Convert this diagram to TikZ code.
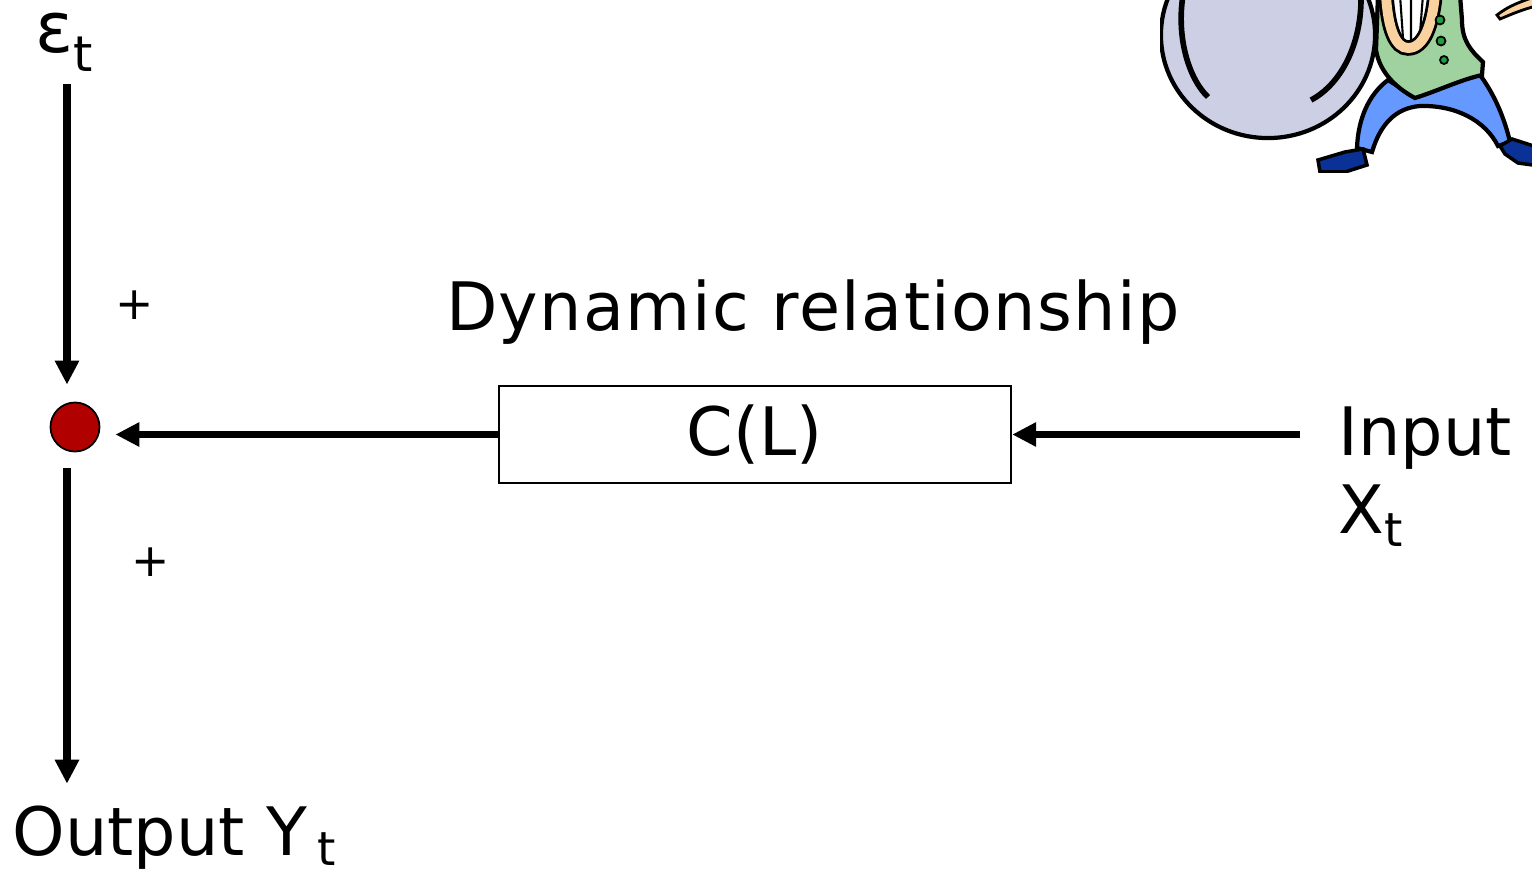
\documentclass[tikz,border=0pt]{standalone}
\usepackage{fontspec}
\setmainfont{DejaVu Sans}
\usepackage{graphicx}
\usetikzlibrary{positioning, arrows.meta}

\definecolor{sumred}{RGB}{176,0,0}
\definecolor{sack}{RGB}{205,208,229}
\definecolor{vest}{RGB}{160,210,160}
\definecolor{pants}{RGB}{102,153,255}
\definecolor{shoe}{RGB}{10,50,150}
\definecolor{skin}{RGB}{250,210,160}
\definecolor{button}{RGB}{30,160,60}

\tikzstyle{block} = [rectangle, minimum width=5.12cm, minimum height=0.97cm, text centered, draw=black, line width=0.6pt, font=\fontsize{19}{22}\selectfont]
\tikzstyle{sumpoint} = [circle, minimum size=0.49cm, inner sep=0pt, fill=sumred, draw=black, line width=0.5pt]
\tikzstyle{sig} = [inner sep=0pt, font=\fontsize{19}{22}\selectfont]
\tikzstyle{sign} = [inner sep=0pt, font=\fontsize{13}{15}\selectfont]
\tikzstyle{arrow} = [line width=2pt, ->, >={Triangle[length=0.24cm, width=0.23cm]}]

% lowered small t
\newcommand{\subt}[1][0.2em]{\raisebox{-#1}{\scalebox{0.7}{t}}}

\begin{document}
\begin{tikzpicture}[x=0.01cm, y=-0.01cm]
\useasboundingbox (0,0) rectangle (1532,872);

\node (eps) [sig, anchor=base west, font=\fontsize{20}{22}\selectfont] at (35,52) {ε\subt[0.28em]};
\node (sum) [sumpoint] at (75,427) {};
\node (clbox) [block] at (755,434.5) {C(L)};
\node (dyn) [sig, anchor=base] at (813,330) {\addfontfeature{LetterSpace=2.1}Dynamic relationship};
\node (input) [sig, anchor=base west] at (1338,455) {Input};
\node (xt) [sig, anchor=base west] at (1338,533) {X\subt};
\node (out) [sig, anchor=base west] at (12,855) {Output Y\,\subt[0.15em]};

\node (plusin) [sign] at (135,305) {+};
\node (plusout) [sign] at (151,562) {+};

\draw [arrow] ([xshift=-0.08cm, yshift=-0.12cm]sum.north |- eps.south) -- ([xshift=-0.08cm, yshift=0.17cm]sum.north);
\draw [arrow] ([xshift=-0.08cm, yshift=-0.16cm]sum.south) -- ([xshift=-0.08cm, yshift=0.21cm]sum.south |- out.north);
\draw [arrow] (clbox.west) -- ([xshift=0.15cm]clbox.west -| sum.east);
\draw [arrow] ([xshift=-0.38cm]input.west |- clbox.east) -- (clbox.east);

% little man pushing the sack
\begin{scope}
\clip (1160,0) rectangle (1532,172);
\filldraw [fill=sack, line width=1.2pt] (1268,35) ellipse [x radius=1.07cm, y radius=1.03cm];
\draw [line width=1.6pt] (1183,-5) .. controls (1176,40) and (1190,80) .. (1208,97);
\draw [line width=1.6pt] (1311,100) .. controls (1340,85) and (1362,45) .. (1361,-5);

\filldraw [fill=pants, line width=1.2pt] (1357,148) .. controls (1358,120) and (1368,95) .. (1388,80)
  -- (1412,95) .. controls (1430,88) and (1460,78) .. (1480,75)
  .. controls (1495,95) and (1505,120) .. (1510,142) -- (1498,146)
  .. controls (1485,120) and (1455,105) .. (1420,106)
  .. controls (1395,108) and (1380,125) .. (1372,152) -- cycle;
\filldraw [fill=vest, line width=1.2pt] (1378,-5) -- (1376,50) .. controls (1380,75) and (1400,90) .. (1415,98)
  .. controls (1440,90) and (1460,80) .. (1482,75) -- (1483,62)
  .. controls (1470,50) and (1462,40) .. (1462,20) -- (1460,-5) -- cycle;

\fill [white] (1386,-5) .. controls (1388,30) and (1396,48) .. (1408,48) .. controls (1424,48) and (1432,25) .. (1435,-5) -- cycle;
\draw [line width=0.6pt] (1400,-5) -- (1403,38) (1411,-5) -- (1411,42) (1423,-5) -- (1420,33);
\draw [line width=4.4pt] (1386,-5) .. controls (1388,30) and (1396,48) .. (1408,48) .. controls (1424,48) and (1432,25) .. (1435,-5);
\draw [skin, line width=2.8pt] (1386,-5) .. controls (1388,30) and (1396,48) .. (1408,48) .. controls (1424,48) and (1432,25) .. (1435,-5);

\filldraw [fill=button, line width=0.5pt] (1440,20) circle [radius=0.045cm];
\filldraw [fill=button, line width=0.5pt] (1441,41) circle [radius=0.045cm];
\filldraw [fill=button, line width=0.5pt] (1444,60) circle [radius=0.04cm];

\filldraw [fill=shoe, line width=1pt] (1318,160) -- (1345,152) -- (1363,149) -- (1367,165) -- (1345,172) -- (1320,172) -- cycle;
\filldraw [fill=shoe, line width=1pt] (1500,146) -- (1512,139) -- (1540,148) -- (1540,166) -- (1518,163) -- (1505,154) -- cycle;

\filldraw [fill=skin, line width=0.8pt] (1497,15) .. controls (1510,5) and (1520,2) .. (1540,-5) -- (1540,5) .. controls (1520,10) and (1510,15) .. (1500,19) -- cycle;
\end{scope}

\end{tikzpicture}
\end{document}
